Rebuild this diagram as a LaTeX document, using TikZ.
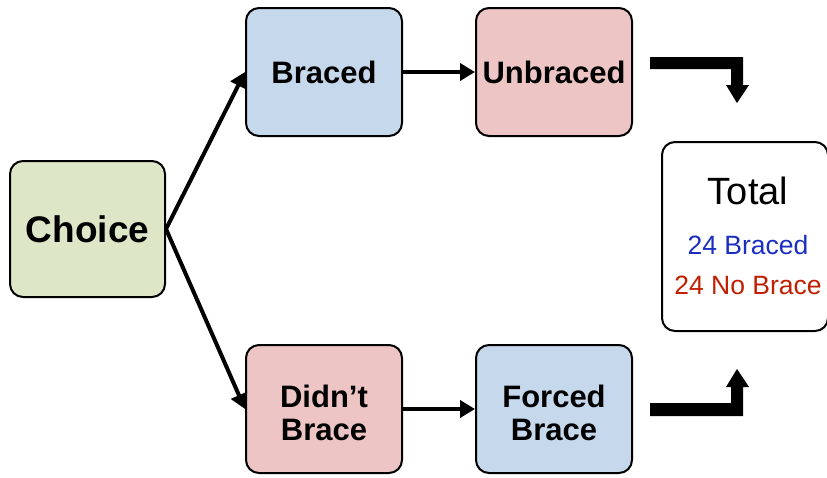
\documentclass[tikz,border=0pt]{standalone}
\usepackage{fontspec}
\setmainfont{Liberation Sans}
\usetikzlibrary{arrows.meta,calc}
\definecolor{choicegreen}{HTML}{DEE6C8}
\definecolor{boxblue}{HTML}{C6D9EC}
\definecolor{boxpink}{HTML}{EDC5C5}
\definecolor{txtblue}{HTML}{1A2EC0}
\definecolor{txtred}{HTML}{C02000}
\tikzset{
  stage/.style={draw=black, line width=2pt, rounded corners=13pt,
    minimum width=156pt, minimum height=128pt, align=center,
    font=\bfseries\fontsize{31}{34}\selectfont, inner sep=0pt},
  caption/.style={anchor=base, font=\bfseries\fontsize{31}{34}\selectfont, inner sep=0pt},
  flow/.style={line width=4pt, -{Triangle[length=15pt,width=17pt]}},
  bigarrow/.style={fill=black, draw=none}
}
\begin{document}
\begin{tikzpicture}[x=1pt,y=-1pt]
\useasboundingbox (0,0) rectangle (827,477);

% stages
\node[stage, fill=choicegreen, minimum width=155pt, minimum height=136pt,
      font=\bfseries\fontsize{37}{40}\selectfont] (choice) at (87.5,229) {Choice};
\node[stage, fill=boxblue] (braced) at (324,72) {Braced};
\node[stage, fill=boxpink] (unbraced) at (554,72) {Unbraced};
\node[stage, fill=boxpink] (didnt) at (324,409) {};
\node[stage, fill=boxblue] (forced) at (554,409) {};

% two-line captions, one baseline per line
\foreach \stagename/\first/\second in {didnt/Didn’t/Brace, forced/Forced/Brace}{
  \node[caption] (\stagename-a) at ($(\stagename.center)+(0,-2)$) {\first};
  \node[caption] (\stagename-b) at ($(\stagename.center)+(0,31)$) {\second};
}

% totals box
\node[draw=black, line width=2pt, rounded corners=13pt, fill=white,
      minimum width=166pt, minimum height=189pt] (total) at (745,236.5) {};
\node[anchor=base, font=\fontsize{38}{40}\selectfont, inner sep=0pt]
  (totallabel) at ($(total.north)+(3,63)$) {Total};
\node[anchor=base, font=\fontsize{26.5}{30}\selectfont, text=txtblue, inner sep=0pt]
  (nbraced) at ($(total.north)+(3,113)$) {24 Braced};
\node[anchor=base, font=\fontsize{26.5}{30}\selectfont, text=txtred, inner sep=0pt]
  (nnobrace) at ($(total.north)+(3,153)$) {24 No Brace};

% connectors
\draw[flow] (choice.east) -- (braced.west);
\draw[flow] (choice.east) -- (didnt.west);
\draw[flow] (braced.east) -- (unbraced.east -| unbraced.west);
\draw[flow] (didnt.east) -- (didnt.east -| forced.west);

% bent block arrows into the totals box
\fill[bigarrow] (650,57) -- (743,57) -- (743,85) -- (749,85) -- (737,103)
  -- (726,85) -- (731,85) -- (731,69) -- (650,69) -- cycle;
\fill[bigarrow] (650,416) -- (743,416) -- (743,387) -- (749,387) -- (737,369)
  -- (726,387) -- (731,387) -- (731,403) -- (650,403) -- cycle;
\end{tikzpicture}
\end{document}
